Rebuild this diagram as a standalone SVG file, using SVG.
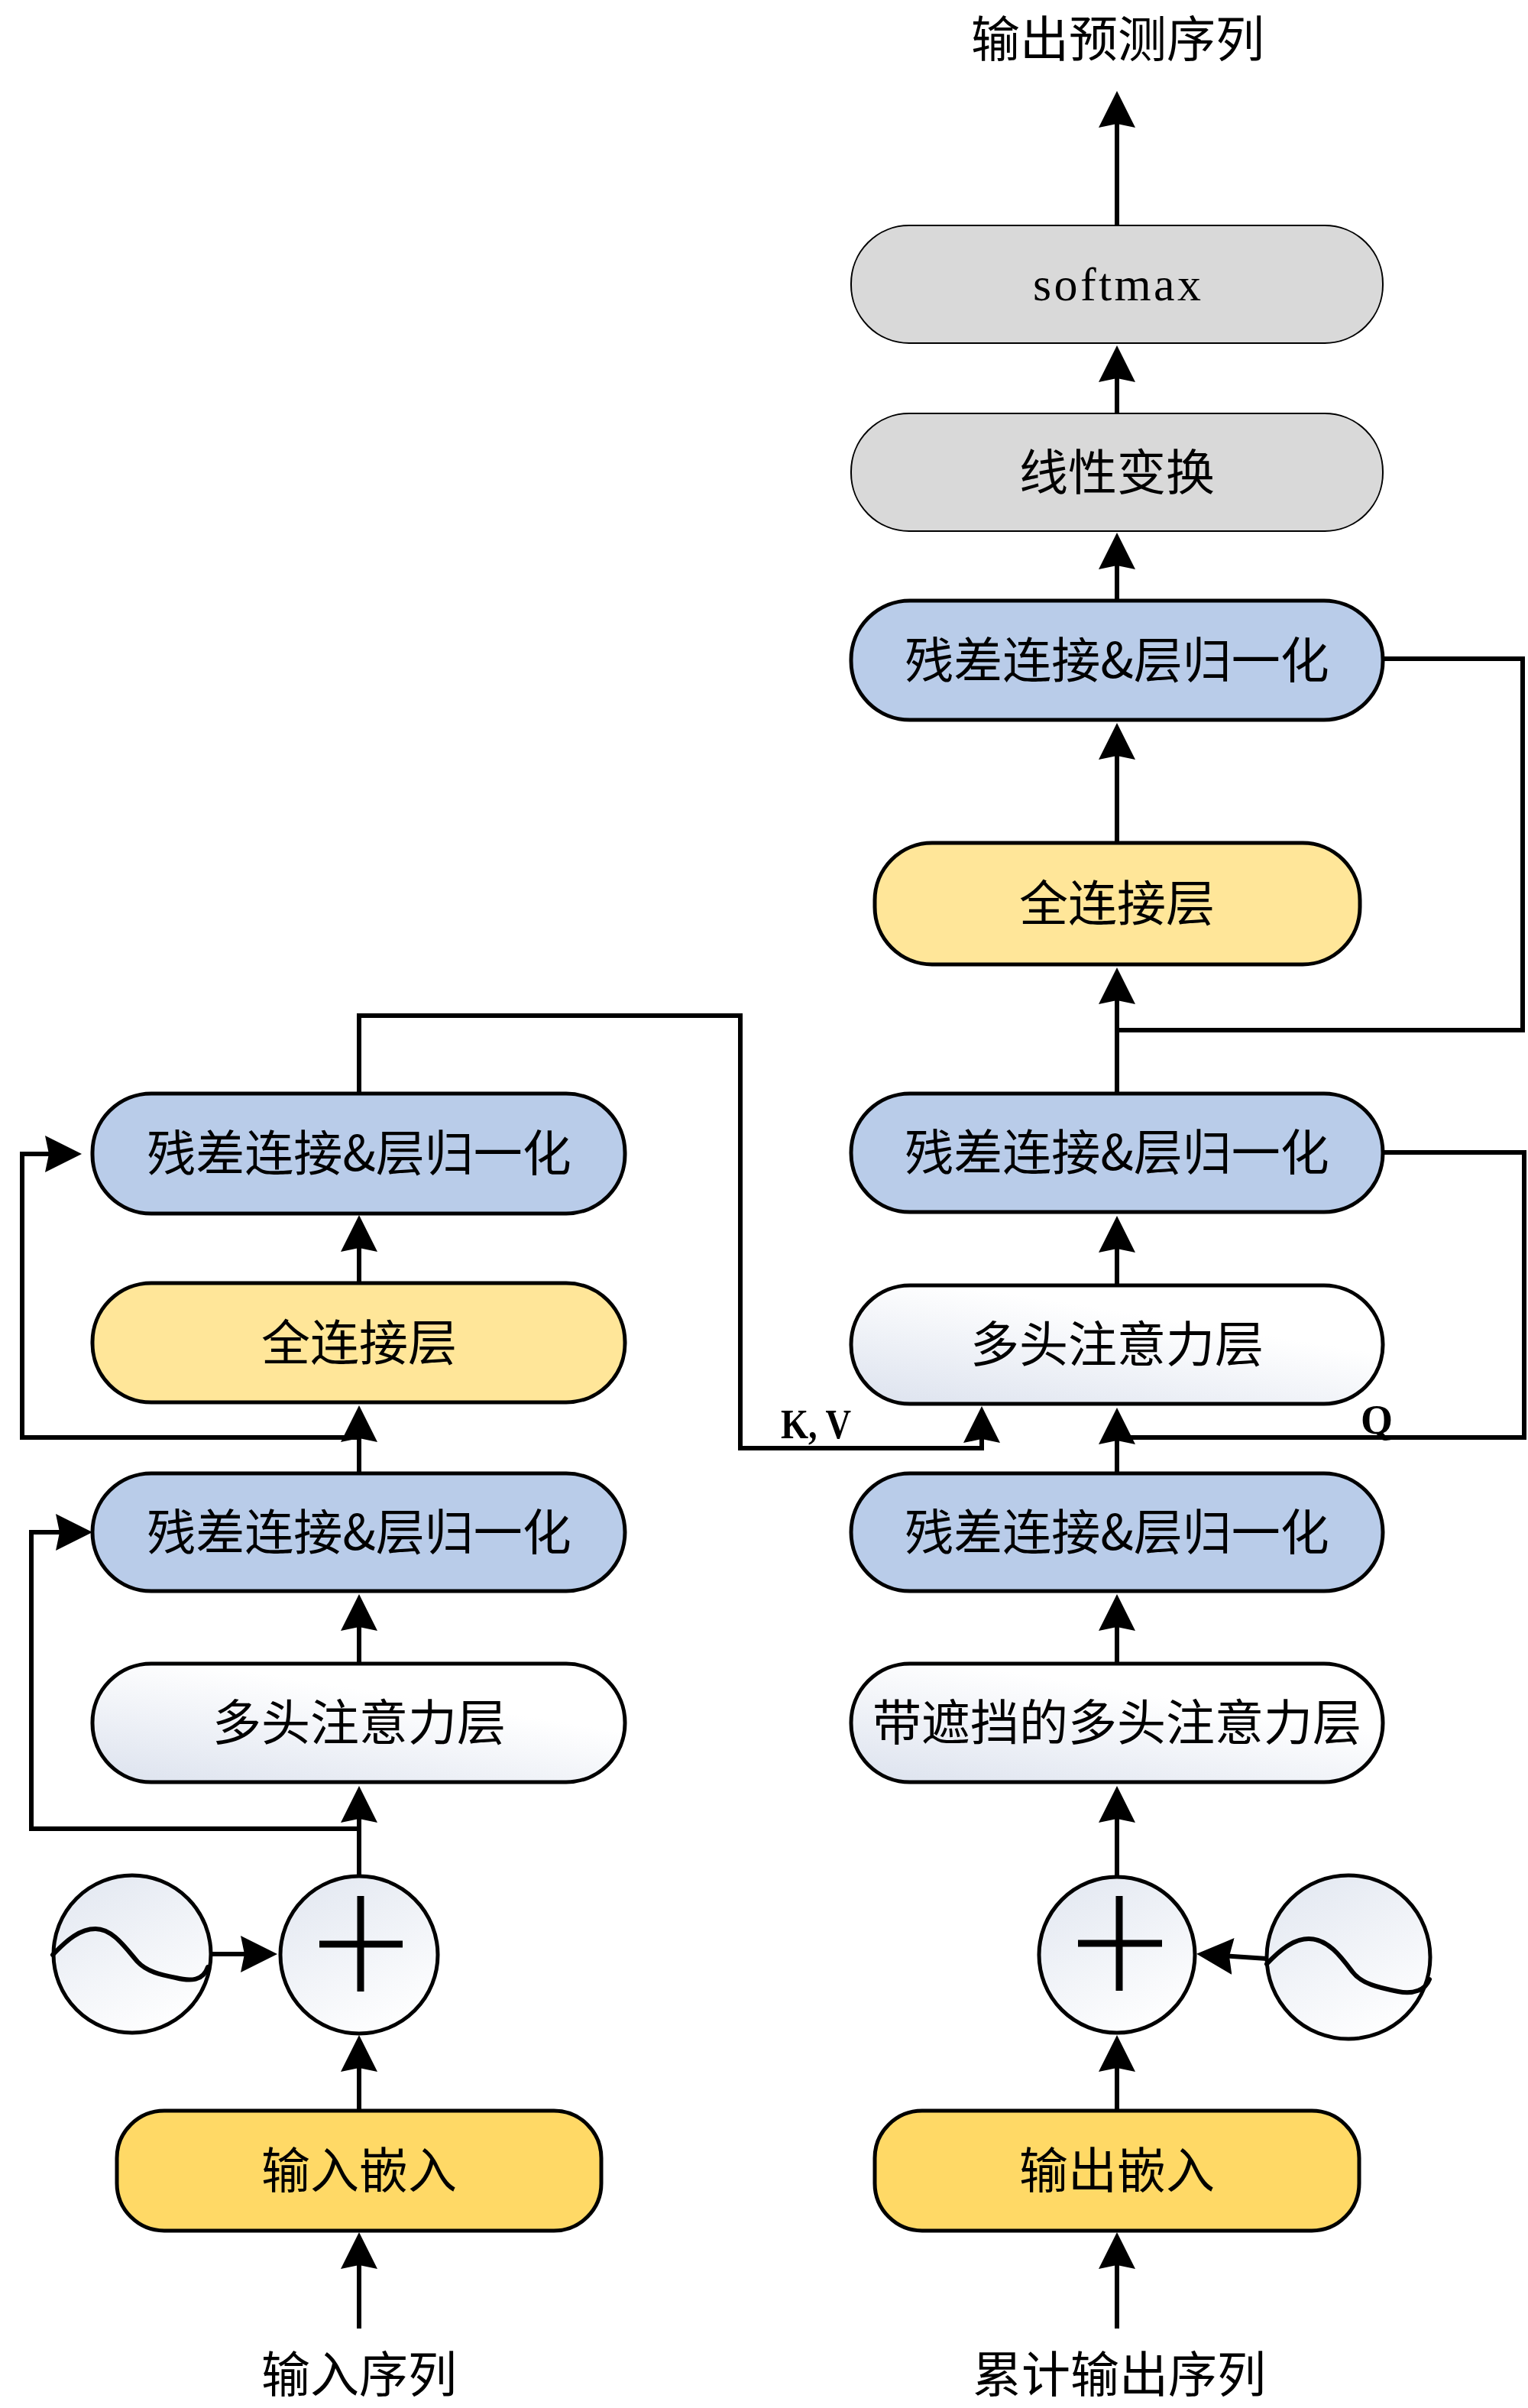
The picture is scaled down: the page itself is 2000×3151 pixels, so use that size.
<svg xmlns="http://www.w3.org/2000/svg" width="2000" height="3151" viewBox="0 0 2000 3151">
<defs>
<linearGradient id="gAttn" x1="0" y1="1" x2="0.55" y2="0.25">
<stop offset="0" stop-color="#DCE2EE"/>
<stop offset="1" stop-color="#FFFFFF"/>
</linearGradient>
<linearGradient id="gCirc" x1="0.2" y1="0" x2="0.7" y2="1">
<stop offset="0" stop-color="#E3E8F1"/>
<stop offset="1" stop-color="#FFFFFF"/>
</linearGradient>
<marker id="ah" viewBox="0 0 48 48" refX="8" refY="24" markerWidth="48" markerHeight="48" markerUnits="userSpaceOnUse" orient="auto">
<path d="M0,0 L48,24 L0,48 L5,24 Z" fill="#000"/>
</marker>
</defs>
<style>
.box{stroke:#000;stroke-width:5}
.res{fill:#B9CCE9}
.fc{fill:#FFE699}
.emb{fill:#FFD966}
.gray{fill:#D9D9D9;stroke:#000;stroke-width:2}
.attn{fill:url(#gAttn)}
.circ{fill:url(#gCirc);stroke:#000;stroke-width:5}
.t{font-family:"Noto Sans CJK SC","Noto Sans CJK JP",sans-serif;font-size:64px;fill:#000;text-anchor:middle}
.lat{font-family:"Liberation Serif",serif;font-size:62px;fill:#000;text-anchor:middle}
.lbl{font-family:"Liberation Serif",serif;font-weight:bold;font-size:54px;fill:#000;text-anchor:middle}
.c{fill:none;stroke:#000;stroke-width:6}
.a{marker-end:url(#ah)}
.sym{fill:none;stroke:#000;stroke-width:9}
.wave{fill:none;stroke:#000;stroke-width:6;stroke-linecap:round}
</style>

<g id="connectors">
<path class="c a" d="M1462,295 V159"/>
<path class="c a" d="M1462,541 V492"/>
<path class="c a" d="M1462,786 V737"/>
<path class="c a" d="M1462,1103 V986"/>
<path class="c a" d="M1462,1431 V1306"/>
<path class="c a" d="M1462,1682 V1631"/>
<path class="c a" d="M1462,1928 V1882"/>
<path class="c a" d="M1462,2177 V2126"/>
<path class="c a" d="M1462,2456 V2377"/>
<path class="c a" d="M1462,2762 V2703"/>
<path class="c a" d="M1462,3047 V2961"/>
<path class="c a" d="M1658,2563 L1606,2559.5"/>
<path class="c a" d="M470,1679 V1630"/>
<path class="c a" d="M470,1928 V1879"/>
<path class="c a" d="M470,2177 V2126"/>
<path class="c a" d="M470,2456 V2377"/>
<path class="c a" d="M470,2762 V2703"/>
<path class="c a" d="M470,3047 V2961"/>
<path class="c a" d="M276,2557 H323"/>
<path class="c a" d="M470,1881 H29 V1510 H67"/>
<path class="c a" d="M470,2393 H41 V2005 H81"/>
<path class="c a" d="M470,1431 V1329 H969 V1895 H1285 V1880"/>
<path class="c" d="M1810,862 H1993 V1348 H1462"/>
<path class="c" d="M1809,1508 H1995 V1881 H1462"/>
</g>

<g id="title-out"><text class="t" x="1463" y="74">输出预测序列</text></g>

<g id="softmax">
<rect class="gray" x="1114" y="295" width="696" height="154" rx="76" ry="76"/>
<text class="lat" x="1462" y="393" textLength="220" lengthAdjust="spacing">softmax</text>
</g>
<g id="linear">
<rect class="gray" x="1114" y="541" width="696" height="154" rx="76" ry="76"/>
<text class="t" x="1462" y="641">线性变换</text>
</g>
<g id="dec-addnorm3">
<rect class="box res" x="1114" y="786" width="696" height="156" rx="77" ry="77"/>
<text class="t" x="1462" y="887">残差连接&amp;层归一化</text>
</g>
<g id="dec-ffn">
<rect class="box fc" x="1145" y="1103" width="635" height="159" rx="75" ry="75"/>
<text class="t" x="1462" y="1205">全连接层</text>
</g>
<g id="dec-addnorm2">
<rect class="box res" x="1114" y="1431" width="696" height="155" rx="77" ry="77"/>
<text class="t" x="1462" y="1531">残差连接&amp;层归一化</text>
</g>
<g id="dec-attn">
<rect class="box attn" x="1114" y="1682" width="696" height="155" rx="77" ry="77"/>
<text class="t" x="1462" y="1782">多头注意力层</text>
</g>
<g id="dec-addnorm1">
<rect class="box res" x="1114" y="1928" width="696" height="154" rx="77" ry="77"/>
<text class="t" x="1462" y="2028">残差连接&amp;层归一化</text>
</g>
<g id="dec-masked-attn">
<rect class="box attn" x="1114" y="2177" width="696" height="155" rx="77" ry="77"/>
<text class="t" x="1462" y="2277">带遮挡的多头注意力层</text>
</g>
<g id="dec-plus">
<circle class="circ" cx="1462" cy="2558" r="102"/>
<path class="sym" d="M1411,2543 H1521 M1465,2481 V2605"/>
</g>
<g id="dec-posenc">
<circle class="circ" cx="1765" cy="2561" r="107"/>
<path class="wave" d="M1658,2570 C1675,2552 1693,2537 1713,2537 C1738,2537 1755,2560 1770,2580 C1782,2596 1805,2601 1830,2606 C1850,2610 1866,2604 1871,2590"/>
</g>
<g id="dec-embed">
<rect class="box emb" x="1145" y="2762" width="634" height="157" rx="62" ry="62"/>
<text class="t" x="1462" y="2863">输出嵌入</text>
</g>
<g id="title-dec-in"><text class="t" x="1465" y="3130">累计输出序列</text></g>

<g id="enc-addnorm2">
<rect class="box res" x="121" y="1431" width="697" height="157" rx="77" ry="77"/>
<text class="t" x="470" y="1532">残差连接&amp;层归一化</text>
</g>
<g id="enc-ffn">
<rect class="box fc" x="121" y="1679" width="697" height="156" rx="77" ry="77"/>
<text class="t" x="470" y="1780">全连接层</text>
</g>
<g id="enc-addnorm1">
<rect class="box res" x="121" y="1928" width="697" height="154" rx="77" ry="77"/>
<text class="t" x="470" y="2028">残差连接&amp;层归一化</text>
</g>
<g id="enc-attn">
<rect class="box attn" x="121" y="2177" width="697" height="155" rx="77" ry="77"/>
<text class="t" x="470" y="2277">多头注意力层</text>
</g>
<g id="enc-plus">
<circle class="circ" cx="470" cy="2558" r="103"/>
<path class="sym" d="M418,2544 H527 M472,2481 V2606"/>
</g>
<g id="enc-posenc">
<circle class="circ" cx="173" cy="2557" r="103"/>
<path class="wave" d="M69,2558 C88,2538 105,2524 125,2524 C148,2524 165,2550 180,2567 C192,2580 210,2584 230,2588 C250,2593 266,2592 272,2574"/>
</g>
<g id="enc-embed">
<rect class="box emb" x="153" y="2762" width="634" height="157" rx="62" ry="62"/>
<text class="t" x="470" y="2863">输入嵌入</text>
</g>
<g id="title-enc-in"><text class="t" x="470" y="3130">输入序列</text></g>

<g id="labels">
<text class="lbl" x="1068" y="1882" textLength="92" lengthAdjust="spacingAndGlyphs">K, V</text>
<text class="lbl" x="1802" y="1876">Q</text>
</g>
</svg>
